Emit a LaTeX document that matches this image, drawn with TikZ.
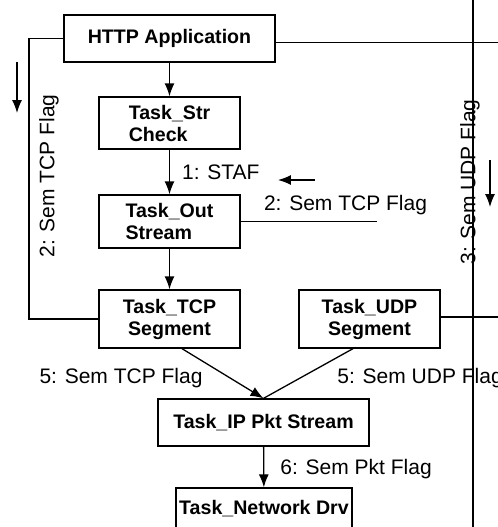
\documentclass[tikz,border=0pt]{standalone}
\usepackage{fontspec}
\setmainfont{Liberation Sans}
\usetikzlibrary{arrows.meta,calc}
\begin{document}
\begin{tikzpicture}[x=0.5pt,y=-0.5pt,
  task/.style={draw,line width=0.65pt,inner sep=0pt,
    font=\fontsize{9.8}{11}\selectfont\bfseries},
  lbl/.style={font=\fontsize{10.5}{12}\selectfont,inner sep=0pt},
  link/.style={line width=0.65pt},
  flow/.style={link,-{Latex[length=6.5pt,width=5pt]}},
  bus/.style={line width=1pt}]
\useasboundingbox (0,0) rectangle (498,527);
\clip (0,0) rectangle (498,527);
\fill[white] (0,0) rectangle (498,527);

% tasks
\node[task,minimum width=105.5pt,minimum height=23.5pt] (http) at (169.5,38.5) {HTTP Application};
\node[task,minimum width=70.5pt,minimum height=26pt,align=left] (str) at (169.5,123) {Task\_Str\\Check};
\node[task,minimum width=70.5pt,minimum height=26.5pt,align=left] (out) at (169.5,221.5) {Task\_Out\\Stream};
\node[task,minimum width=70.5pt,minimum height=29pt,align=center] (tcp) at (169.5,319) {Task\_TCP\\Segment};
\node[task,minimum width=70.5pt,minimum height=29pt,align=center] (udp) at (369.5,319) {Task\_UDP\\Segment};
\node[task,minimum width=105.5pt,minimum height=23.5pt] (ip) at (263.5,422.5) {Task\_IP Pkt Stream};
\node[task,minimum width=88pt,minimum height=21pt] (drv) at (264,509) {Task\_Network Drv};

% free ends of the lines leaving the picture
\coordinate (httpEnd) at (500,42.5);
\coordinate (udpEnd) at (500,317);
\coordinate (outEnd) at (377,221.5);
\coordinate (tcpLoop) at (29,38.5);
\coordinate (busTop) at (473,-2);
\coordinate (busBot) at (473,530);

% direction hints
\coordinate (dirLa) at (17,62);
\coordinate (dirLb) at (17,113);
\coordinate (dirMa) at (315,180);
\coordinate (dirMb) at (278,180);
\coordinate (dirRa) at (490,160);
\coordinate (dirRb) at (490,207);

% main chain
\draw[flow] (http) -- (str);
\draw[flow] (str) -- node[lbl,right=6pt]{1: STAF} (out);
\draw[flow] (out) -- (tcp);
\draw[flow] ($(tcp.south)+(12.5,0)$) -- (ip.north);
\draw[link] ($(udp.south)+(-16.5,0)$) -- (ip.north);
\draw[flow] (ip) -- node[lbl,right=8pt,yshift=-1pt]{6: Sem Pkt Flag} (drv);

% semaphore lines
\draw[link] (http.west) -- (tcpLoop) |- (tcp.west);
\draw[link] (http.east |- httpEnd) -- (httpEnd);
\draw[link] (out.east) -- (outEnd);
\draw[link] (udp.east |- udpEnd) -- (udpEnd);

% labels
\node[lbl,rotate=90] (lTcp2) at (49,176) {2: Sem TCP Flag};
\node[lbl] (lOut2) at (345.5,205) {2: Sem TCP Flag};
\node[lbl] (lTcp5) at (121,378) {5: Sem TCP Flag};
\node[lbl,anchor=west] (lUdp5) at (337,378) {5: Sem UDP Flag};
\node[lbl,rotate=90] (lUdp3) at (470,182) {3: Sem UDP Flag};

% bus line on top of its label
\draw[bus] (busTop) -- (busBot);

% arrows
\draw[flow] (dirLa) -- (dirLb);
\draw[flow] (dirMa) -- (dirMb);
\draw[flow] (dirRa) -- (dirRb);
\end{tikzpicture}
\end{document}
